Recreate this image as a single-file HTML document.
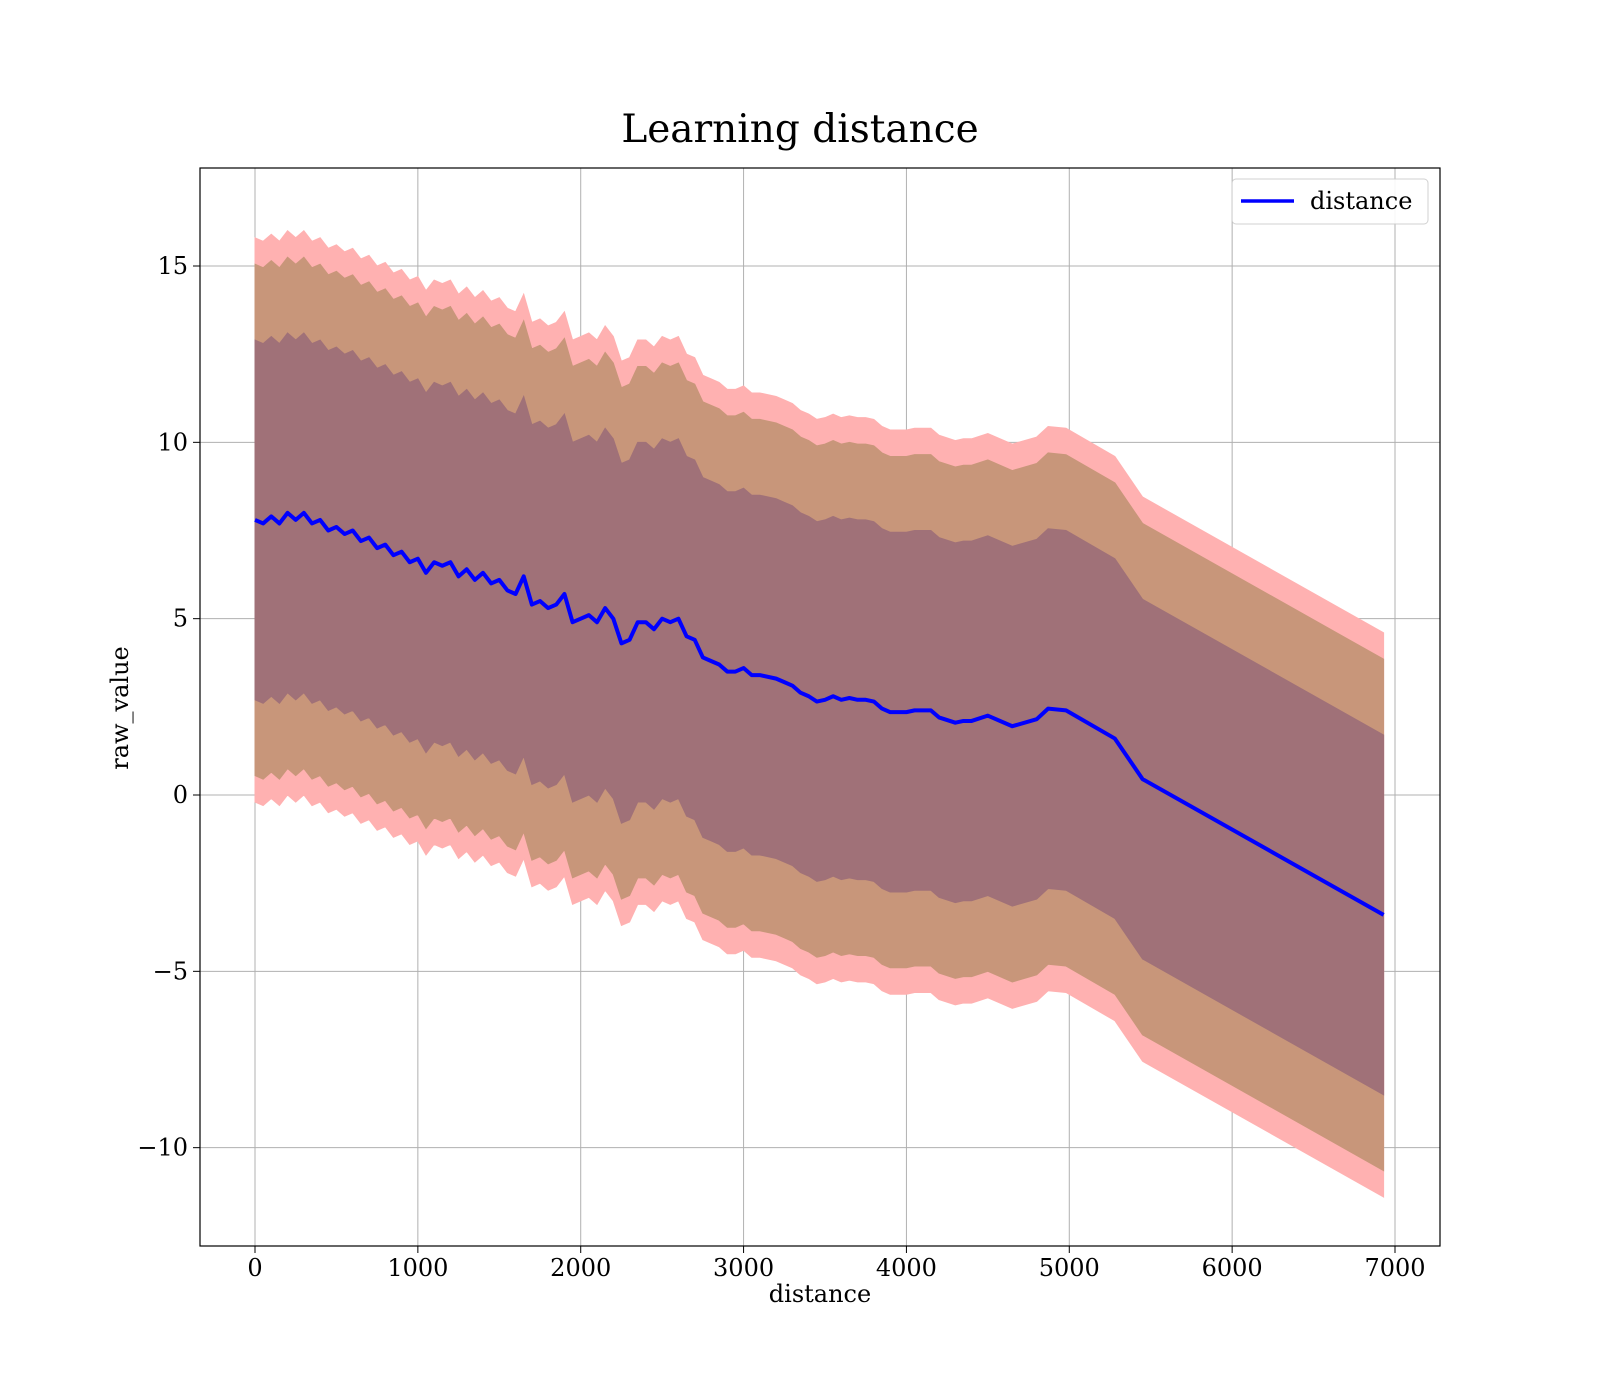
<!DOCTYPE html>
<html><head><meta charset="utf-8"><style>
html,body{margin:0;padding:0;background:#fff;}
svg{display:block;font-family:"DejaVu Serif","Liberation Serif",serif;}
</style></head><body>
<svg id="chart" width="1600" height="1400" viewBox="0 0 1600 1400" xmlns="http://www.w3.org/2000/svg">
<rect width="1600" height="1400" fill="#fff"/>
<text x="800" y="142" font-size="39" text-anchor="middle">Learning distance</text>
<g id="grid"></g>
<g id="bands"></g>
<g id="line"></g>
<rect x="200" y="168" width="1240" height="1078" fill="none" stroke="#000" stroke-width="1.2"/>
<g id="ticks"></g>
<text x="820" y="1302" font-size="24" text-anchor="middle">distance</text>
<text transform="translate(128,708) rotate(-90)" font-size="24" text-anchor="middle">raw_value</text>
<g>
<rect x="1232" y="179" width="196" height="45" rx="4" fill="#fff" stroke="#ccc" opacity="0.9"/>
<line x1="1241" y1="201" x2="1294" y2="201" stroke="#0000ff" stroke-width="3.5"/>
<text x="1310" y="209" font-size="24">distance</text>
</g>
</svg>
<script>
const xs = [0,50,100,150,200,250,300,350,400,450,500,550,600,650,700,750,800,850,900,950,1000,1050,1100,1150,1200,1250,1300,1350,1400,1450,1500,1550,1600,1650,1700,1750,1800,1850,1900,1950,2000,2050,2100,2150,2200,2250,2300,2350,2400,2450,2500,2550,2600,2650,2700,2750,2800,2850,2900,2950,3000,3050,3100,3200,3250,3300,3350,3400,3450,3500,3550,3600,3650,3700,3750,3800,3850,3900,3950,4000,4050,4150,4200,4300,4350,4400,4500,4650,4800,4870,4980,5280,5450,6930];
const meanVals = [7.8,7.7,7.9,7.7,8.0,7.8,8.0,7.7,7.8,7.5,7.6,7.4,7.5,7.2,7.3,7.0,7.1,6.8,6.9,6.6,6.7,6.3,6.6,6.5,6.6,6.2,6.4,6.1,6.3,6.0,6.1,5.8,5.7,6.2,5.4,5.5,5.3,5.4,5.7,4.9,5.0,5.1,4.9,5.3,5.0,4.3,4.4,4.9,4.9,4.7,5.0,4.9,5.0,4.5,4.4,3.9,3.8,3.7,3.5,3.5,3.6,3.4,3.4,3.3,3.2,3.1,2.9,2.8,2.65,2.7,2.8,2.7,2.75,2.7,2.7,2.65,2.45,2.35,2.35,2.35,2.4,2.4,2.2,2.05,2.1,2.1,2.25,1.95,2.15,2.45,2.4,1.6,0.45,-3.4];
const bandWidths = [8.0, 7.25, 5.1];
const bandColors = ["#ffb1b1","#c8967a","#a07178"];
const xTicks = [0,1000,2000,3000,4000,5000,6000,7000];
const yTicks = [-10,-5,0,5,10,15];
const yTickLabels = ["\u221210","\u22125","0","5","10","15"];

const X = v => 255 + v * (1395-255)/7000;
const Y = v => 795 - v * (795-266)/15;
const NS = "http://www.w3.org/2000/svg";
function mk(tag, attrs, parent){const e=document.createElementNS(NS,tag);for(const k in attrs)e.setAttribute(k,attrs[k]);parent.appendChild(e);return e;}

const grid=document.getElementById('grid'), ticks=document.getElementById('ticks');
xTicks.forEach(t=>{
  const g=mk('line',{x1:X(t),x2:X(t),y1:168,y2:1246,stroke:'#b0b0b0','stroke-width':1},grid);
  
  
  mk('line',{x1:X(t),x2:X(t),y1:1246,y2:1253,stroke:'#000'},ticks);
  const tx=mk('text',{x:X(t),y:1276,'font-size':24,'text-anchor':'middle'},ticks);
  tx.textContent=t;
  
  
});
yTicks.forEach((t,i)=>{
  const g=mk('line',{x1:200,x2:1440,y1:Y(t),y2:Y(t),stroke:'#b0b0b0','stroke-width':1},grid);
  
  
  mk('line',{x1:193,x2:200,y1:Y(t),y2:Y(t),stroke:'#000'},ticks);
  const tx=mk('text',{x:188,y:Y(t)+8,'font-size':24,'text-anchor':'end'},ticks);
  tx.textContent=yTickLabels[i];
  
  
});
const bands=document.getElementById('bands');
bandWidths.forEach((w,i)=>{
  let up=xs.map((x,j)=>X(x)+','+Y(meanVals[j]+w));
  let lo=xs.map((x,j)=>X(x)+','+Y(meanVals[j]-w)).reverse();
  const p=mk('polygon',{points:up.concat(lo).join(' '),fill:bandColors[i],stroke:bandColors[i],'stroke-width':1},bands);
  
  
});
const ln=mk('polyline',{points:xs.map((x,j)=>X(x)+','+Y(meanVals[j])).join(' '),fill:'none',stroke:'#0000ff','stroke-width':4,'stroke-linejoin':'round'},document.getElementById('line'));


</script>
</body></html>
